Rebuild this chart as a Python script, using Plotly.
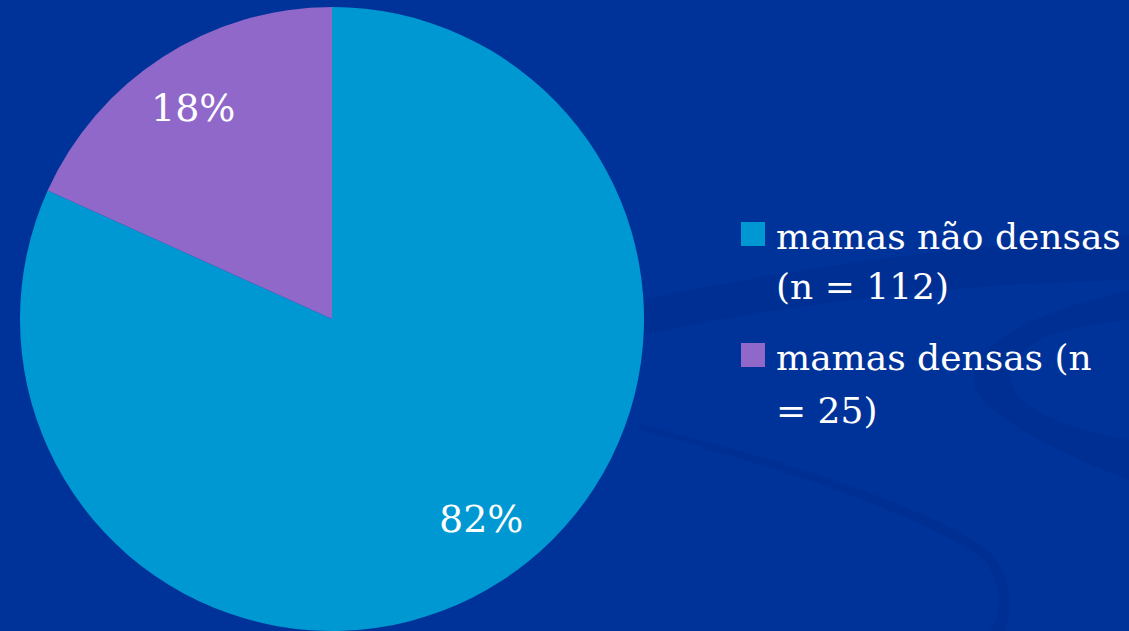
import math
import plotly.graph_objects as go

# Breast density groups
labels = ["mamas não densas (n = 112)", "mamas densas (n = 25)"]
legend_lines = [["mamas não densas", "(n = 112)"], ["mamas densas (n", "= 25)"]]
counts = [112, 25]
colors = ["#0098D2", "#8F68CA"]

W, H = 1129, 631
BG = "#003399"
FONT = "DejaVu Serif"

# pie geometry in pixels
cx_px, cy_px, r_px = 332, 319, 312

fig = go.Figure()
fig.add_trace(go.Pie(
    labels=labels,
    values=counts,
    marker=dict(colors=colors, line=dict(width=0)),
    sort=False,
    direction="clockwise",
    rotation=0,
    textinfo="none",
    hoverinfo="label+percent",
    showlegend=False,
    domain=dict(x=[(cx_px - r_px) / W, (cx_px + r_px) / W],
                y=[(H - cy_px - r_px) / H, (H - cy_px + r_px) / H]),
))

annotations = []
# percentage labels placed along each slice's bisector
total = sum(counts)
start = 90.0
label_radius = [0.80, 0.81]
label_shift = [3.9, 0.5]  # degrees, nudges along the arc
for v, rf, sh in zip(counts, label_radius, label_shift):
    share = v / total
    sweep = share * 360.0
    mid = math.radians(start - sweep / 2 + sh)
    start -= sweep
    rr = rf * r_px
    x = (cx_px + rr * math.cos(mid)) / W
    y = (H - cy_px + rr * math.sin(mid)) / H
    annotations.append(dict(
        x=x, y=y, xref="paper", yref="paper", showarrow=False,
        text=f"{round(share * 100)}%",
        font=dict(family=FONT, size=38, color="white"),
        xanchor="center", yanchor="middle",
    ))

# legend: coloured squares with wrapped labels, one annotation per line
shapes = []
item_baselines = [[247, 298], [368, 421]]
for i, (lines, bases) in enumerate(zip(legend_lines, item_baselines)):
    b0 = bases[0]
    shapes.append(dict(
        type="rect", xref="paper", yref="paper",
        x0=741 / W, x1=765 / W, y0=(H - b0 + 1) / H, y1=(H - b0 + 25) / H,
        fillcolor=colors[i], line=dict(width=0),
    ))
    for line, base in zip(lines, bases):
        annotations.append(dict(
            x=774 / W, y=(H - base + 11) / H, xref="paper", yref="paper",
            showarrow=False, text=line, align="left",
            xanchor="left", yanchor="middle",
            font=dict(family=FONT, size=36, color="white"),
        ))

# faint background swooshes
swoosh = "rgba(0, 28, 110, 0.14)"
shapes.insert(0, dict(
    type="path", xref="paper", yref="paper", layer="below",
    path=" ".join([
        f"M {640/W} {(H-300)/H}",
        f"Q {880/W} {(H-250)/H} {W/W} {(H-235)/H}",
        f"L {W/W} {(H-280)/H}",
        f"Q {880/W} {(H-285)/H} {640/W} {(H-335)/H} Z",
    ]),
    fillcolor=swoosh, line=dict(width=0),
))
shapes.insert(0, dict(
    type="path", xref="paper", yref="paper", layer="below",
    path=" ".join([
        f"M {640/W} {(H-430)/H}",
        f"Q {900/W} {(H-500)/H} {985/W} {(H-560)/H}",
        f"Q {1010/W} {(H-600)/H} {990/W} {(H-631)/H}",
        f"L {1005/W} {(H-631)/H}",
        f"Q {1020/W} {(H-580)/H} {985/W} {(H-548)/H}",
        f"Q {900/W} {(H-490)/H} {640/W} {(H-424)/H} Z",
    ]),
    fillcolor=swoosh, line=dict(width=0),
))
shapes.insert(0, dict(
    type="path", xref="paper", yref="paper", layer="below",
    path=" ".join([
        f"M {W/W} {(H-290)/H}",
        f"Q {960/W} {(H-330)/H} {975/W} {(H-390)/H}",
        f"Q {1000/W} {(H-430)/H} {W/W} {(H-480)/H}",
        f"L {W/W} {(H-440)/H}",
        f"Q {1020/W} {(H-420)/H} {1010/W} {(H-380)/H}",
        f"Q {1010/W} {(H-330)/H} {W/W} {(H-320)/H} Z",
    ]),
    fillcolor=swoosh, line=dict(width=0),
))

fig.update_layout(
    width=W, height=H,
    margin=dict(l=0, r=0, t=0, b=0),
    paper_bgcolor=BG, plot_bgcolor=BG,
    annotations=annotations,
    shapes=shapes,
)

fig.write_html("out.html", config=dict(displayModeBar=False))
